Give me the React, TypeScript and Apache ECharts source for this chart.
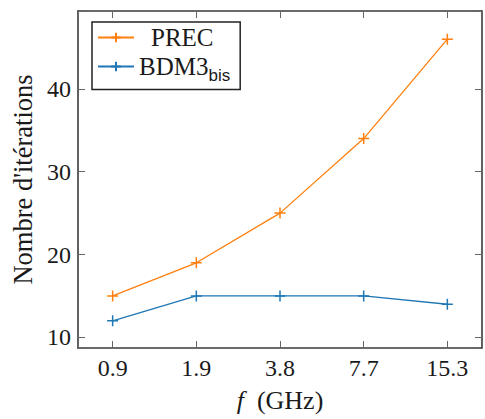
import React, { useEffect, useRef } from "react";
import * as echarts from "echarts";

const freqLabels = ["0.9", "1.9", "3.8", "7.7", "15.3"];
const precValues = [15, 19, 25, 34, 46];
const bdmValues = [12, 15, 15, 15, 14];
const yTickLabels = [10, 20, 30, 40];

const ORANGE = "#ff7f0e";
const BLUE = "#1f77b4";
const TEXT = "#1a1a1a";
const SERIF = "Liberation Serif";
const SANS = "Liberation Sans";
const CROSS = "path://M0,5L10,5M5,0L5,10";

export default function App() {
  const ref = useRef<HTMLDivElement>(null);
  useEffect(() => {
    document.body.style.margin = "0";
    document.body.style.overflow = "hidden";
    const chart = echarts.init(ref.current!, null, { renderer: "svg" });
    const axisLineStyle = { color: "#3a3a3a", width: 1.6 };
    const tickStyle = { color: "#666", width: 1 };
    const xCommon = {
      type: "value" as const,
      min: -0.414,
      max: 4.414,
      minInterval: 1,
      maxInterval: 1,
      splitLine: { show: false },
      axisLine: { show: true, onZero: false, lineStyle: axisLineStyle },
      axisTick: { show: true, inside: true, length: 7, lineStyle: tickStyle },
    };
    const yCommon = {
      type: "value" as const,
      min: 8.716,
      max: 49.4,
      minInterval: 10,
      maxInterval: 10,
      splitLine: { show: false },
      axisLine: { show: true, onZero: false, lineStyle: axisLineStyle },
      axisTick: { show: true, inside: true, length: 7, lineStyle: tickStyle },
    };
    chart.setOption({
      animation: false,
      textStyle: { fontFamily: SERIF },
      grid: { left: 78, top: 11, width: 410.7, height: 339, containLabel: false },
      legend: {
        orient: "vertical",
        left: 92,
        top: 22,
        padding: [3, 10, 6, 5],
        itemGap: 4,
        itemWidth: 36,
        itemHeight: 12,
        borderColor: "#222",
        borderWidth: 1.5,
        backgroundColor: "#fff",
        data: ["PREC", "BDM3bis"],
        formatter: (name: string) =>
          name === "PREC" ? "{p|PREC}" : "{m|BDM3}{s|bis}",
        textStyle: {
          fontFamily: SERIF,
          fontSize: 25,
          color: TEXT,
          rich: {
            p: { fontFamily: SERIF, fontSize: 25, color: TEXT, padding: [0, 0, 0, 12] },
            m: { fontFamily: SERIF, fontSize: 25, color: TEXT, lineHeight: 26 },
            s: {
              fontFamily: SANS,
              fontSize: 17,
              color: TEXT,
              lineHeight: 26,
              verticalAlign: "bottom",
              padding: [0, 0, -4, 0],
            },
          },
        },
      },
      xAxis: [
        {
          ...xCommon,
          position: "bottom",
          axisLabel: {
            show: true,
            margin: 8,
            fontFamily: SERIF,
            fontSize: 24,
            color: TEXT,
            formatter: (v: number) => {
              const i = Math.round(v);
              return Math.abs(v - i) < 1e-6 && freqLabels[i] !== undefined ? freqLabels[i] : "";
            },
          },
          name: "{i|f}  (GHz)",
          nameLocation: "middle",
          nameGap: 38,
          nameTextStyle: {
            fontFamily: SERIF,
            fontSize: 26,
            lineHeight: 28,
            color: TEXT,
            rich: {
              i: { fontFamily: SERIF, fontSize: 26, lineHeight: 28, fontStyle: "italic", color: TEXT },
            },
          },
        },
        {
          ...xCommon,
          position: "top",
          axisLabel: { show: false },
        },
      ],
      yAxis: [
        {
          ...yCommon,
          position: "left",
          axisLabel: {
            show: true,
            margin: 7,
            fontFamily: SERIF,
            fontSize: 24,
            color: TEXT,
            formatter: (v: number) => {
              const hit = yTickLabels.find((t) => Math.abs(t - v) < 1e-6);
              return hit !== undefined ? String(hit) : "";
            },
          },
          name: "Nombre d'itérations",
          nameLocation: "middle",
          nameGap: 42,
          nameTextStyle: { fontFamily: SERIF, fontSize: 26.5, color: TEXT },
        },
        {
          ...yCommon,
          position: "right",
          axisLabel: { show: false },
        },
      ],
      series: [
        {
          name: "PREC",
          type: "line",
          xAxisIndex: 0,
          yAxisIndex: 0,
          data: precValues.map((v, i) => [i, v]),
          symbol: CROSS,
          symbolSize: 11,
          lineStyle: { color: ORANGE, width: 1.3 },
          itemStyle: { color: ORANGE, borderColor: ORANGE, borderWidth: 1.5 },
        },
        {
          name: "BDM3bis",
          type: "line",
          xAxisIndex: 0,
          yAxisIndex: 0,
          data: bdmValues.map((v, i) => [i, v]),
          symbol: CROSS,
          symbolSize: 11,
          lineStyle: { color: BLUE, width: 1.3 },
          itemStyle: { color: BLUE, borderColor: BLUE, borderWidth: 1.5 },
        },
      ],
    });
    return () => chart.dispose();
  }, []);
  return <div ref={ref} style={{ width: 485, height: 419, overflow: "hidden" }} />;
}
